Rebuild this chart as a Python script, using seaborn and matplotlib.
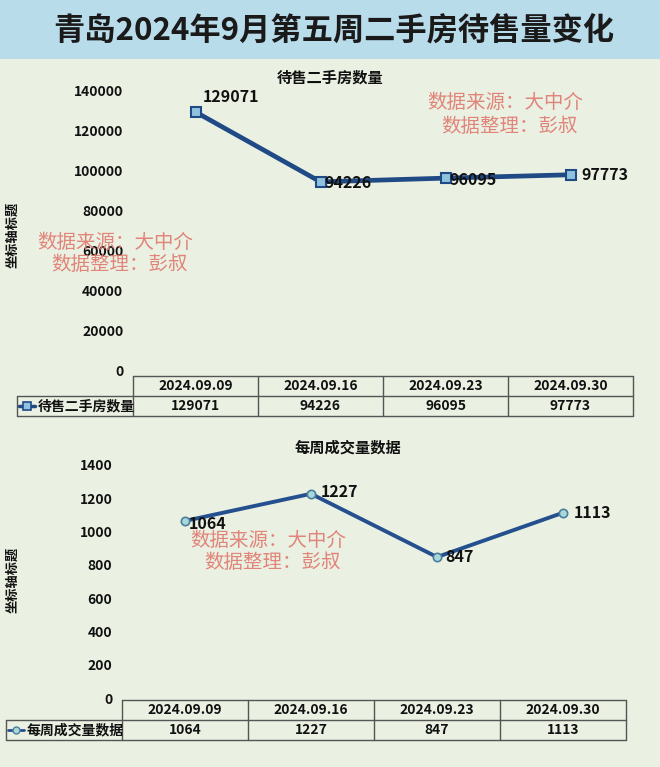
import matplotlib
matplotlib.use("Agg")
import matplotlib.pyplot as plt
import seaborn as sns
import pandas as pd
from matplotlib.patches import Rectangle
from matplotlib.lines import Line2D

# ---------------- data ----------------
dates = ["2024.09.09", "2024.09.16", "2024.09.23", "2024.09.30"]
listing = [129071, 94226, 96095, 97773]
deals = [1064, 1227, 847, 1113]
listing_name = "待售二手房数量"
deals_name = "每周成交量数据"
main_title = "青岛2024年9月第五周二手房待售量变化"
y1_ticks = [0, 20000, 40000, 60000, 80000, 100000, 120000, 140000]
y2_ticks = [0, 200, 400, 600, 800, 1000, 1200, 1400]
axis_title = "坐标轴标题"
watermark = ["数据来源：大中介", "数据整理：彭叔"]

# ---------------- style ----------------
sns.set_theme(style="white")
plt.rcParams["font.family"] = ["Noto Sans CJK SC", "DejaVu Sans"]

W, H = 660, 767
BG = "#EAF0E2"
fig = plt.figure(figsize=(W / 100, H / 100), dpi=100, facecolor=BG)


def fx(x):
    return x / W


def fy(y):
    return 1 - y / H


# title band
fig.patches.append(Rectangle((0, fy(59)), 1, 59 / H, transform=fig.transFigure,
                             facecolor="#B9DCEB", edgecolor="none", zorder=0))
fig.text(fx(334), fy(31), main_title, ha="center", va="center", fontsize=22.5,
         fontweight="bold", color="#1a1a1a")

df1 = pd.DataFrame({"date": dates, "value": listing})
df2 = pd.DataFrame({"date": dates, "value": deals})


def setup_axes(rect_px):
    l, t, r, b = rect_px
    ax = fig.add_axes([fx(l), fy(b), (r - l) / W, (b - t) / H])
    ax.set_facecolor("none")
    for s in ax.spines.values():
        s.set_visible(False)
    return ax


def finish_axes(ax, ylim, ticks, ttl, ttl_x, ttl_y, label_x_px, label_y_px):
    ax.set_xlim(-0.5, 3.5)
    ax.set_ylim(*ylim)
    ax.set_yticks(ticks)
    ax.set_yticklabels([str(t) for t in ticks], fontsize=10, fontweight="bold",
                       color="#111111")
    ax.tick_params(axis="y", length=0, pad=7)
    ax.set_xticks([])
    ax.set_xlabel("")
    ax.set_ylabel("")
    ax.grid(False)
    fig.text(fx(ttl_x), fy(ttl_y), ttl, ha="center", va="center",
             fontsize=11, fontweight="bold", color="#111111")
    fig.text(fx(label_x_px), fy(label_y_px), axis_title, rotation=90, ha="center",
             va="center", fontsize=9.5, fontweight="bold", color="#111111")


def draw_table(ax, legend_left_px, top_px, values, name, line_kw, marker_kw):
    inv = fig.transFigure.inverted()
    edges = [inv.transform(ax.transData.transform((e, 0)))[0]
             for e in [-0.5, 0.5, 1.5, 2.5, 3.5]]
    centers = [inv.transform(ax.transData.transform((i, 0)))[0] for i in range(4)]
    ll = fx(legend_left_px)
    y0, y1, y2 = fy(top_px), fy(top_px + 20), fy(top_px + 40)
    kw = dict(color="#555555", lw=1.0, transform=fig.transFigure)
    fig.lines.append(Line2D([edges[0], edges[-1]], [y0, y0], **kw))
    fig.lines.append(Line2D([ll, edges[-1]], [y1, y1], **kw))
    fig.lines.append(Line2D([ll, edges[-1]], [y2, y2], **kw))
    fig.lines.append(Line2D([ll, ll], [y1, y2], **kw))
    for e in edges:
        fig.lines.append(Line2D([e, e], [y0, y2], **kw))
    for c, d, v in zip(centers, dates, values):
        fig.text(c, (y0 + y1) / 2, d, ha="center", va="center", fontsize=10,
                 fontweight="bold", color="#111111")
        fig.text(c, (y1 + y2) / 2, str(v), ha="center", va="center", fontsize=10,
                 fontweight="bold", color="#111111")
    ym = (y1 + y2) / 2
    fig.lines.append(Line2D([ll + fx(2), ll + fx(18)], [ym, ym], transform=fig.transFigure,
                            **line_kw))
    fig.lines.append(Line2D([ll + fx(10)], [ym], transform=fig.transFigure, linestyle="none",
                            **marker_kw))
    fig.text(ll + fx(21), ym, name, ha="left", va="center", fontsize=10,
             fontweight="bold", color="#111111")


def watermark_at(cx, y1px, y2px):
    for txt, yy, dx in zip(watermark, [y1px, y2px], [0, 4]):
        fig.text(fx(cx + dx), fy(yy), txt, ha="center", va="center", fontsize=14,
                 color="#E0786E", alpha=0.9, zorder=5)


LBL = 11.5

# ---------------- chart 1 ----------------
ax1 = setup_axes((133, 90, 633, 371))
c1 = "#1F4A86"
sns.lineplot(data=df1, x="date", y="value", ax=ax1, color=c1, linewidth=3.4,
             marker="s", markersize=7, markerfacecolor="#8FC3DD",
             markeredgecolor=c1, markeredgewidth=1.5, sort=False)
finish_axes(ax1, (0, 140000), y1_ticks, listing_name, 330, 78, 12, 235)
offs1 = [(5, 11), (3, -1), (3, -1), (8, 0)]
for i, (v, o) in enumerate(zip(listing, offs1)):
    ax1.annotate(str(v), (i, v), xytext=o, textcoords="offset points",
                 ha="left", va="center", fontsize=LBL, fontweight="bold",
                 color="#111111")
draw_table(ax1, 17, 376, listing, listing_name,
           dict(color=c1, lw=2.5),
           dict(marker="s", markersize=6, markerfacecolor="#8FC3DD",
                markeredgecolor=c1, markeredgewidth=1.2))
watermark_at(505, 103, 127)
watermark_at(115, 243, 265)

# ---------------- chart 2 ----------------
ax2 = setup_axes((122, 465, 626, 698))
c2 = "#25508F"
sns.lineplot(data=df2, x="date", y="value", ax=ax2, color=c2, linewidth=2.8,
             marker="o", markersize=6, markerfacecolor="#A8D8DC",
             markeredgecolor="#4B7F9A", markeredgewidth=1.2, sort=False)
finish_axes(ax2, (0, 1400), y2_ticks, deals_name, 348, 448, 12, 580)
offs2 = [(3, -2), (7, 1), (6, 0), (8, 0)]
for i, (v, o) in enumerate(zip(deals, offs2)):
    ax2.annotate(str(v), (i, v), xytext=o, textcoords="offset points",
                 ha="left", va="center", fontsize=LBL, fontweight="bold",
                 color="#111111")
draw_table(ax2, 6, 700, deals, deals_name,
           dict(color=c2, lw=2.0),
           dict(marker="o", markersize=5, markerfacecolor="#A8D8DC",
                markeredgecolor="#4B7F9A", markeredgewidth=1.0))
watermark_at(268, 541, 563)

fig.savefig("out.png", dpi=100, facecolor=BG)
